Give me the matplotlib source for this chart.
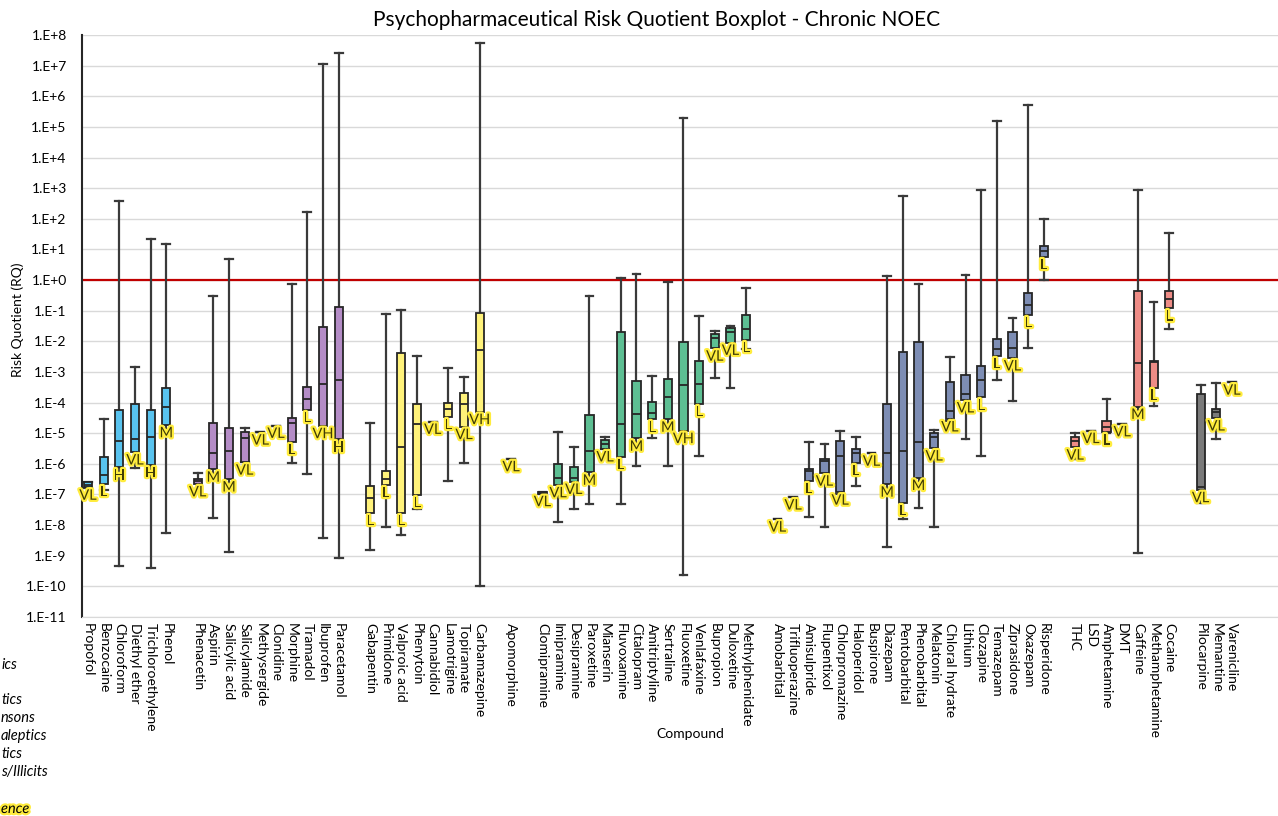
import numpy as np
import matplotlib.pyplot as plt
from matplotlib import patheffects
from matplotlib.ticker import FuncFormatter, NullLocator

plt.rcParams['font.family'] = ['Lato', 'DejaVu Sans']

# compounds per class (a blank slot is left between classes)
anaesthetics = ["Propofol", "Benzocaine", "Chloroform", "Diethyl ether",
                "Trichloroethylene", "Phenol"]
analgesics = ["Phenacetin", "Aspirin", "Salicylic acid", "Salicylamide",
              "Methysergide", "Clonidine", "Morphine", "Tramadol",
              "Ibuprofen", "Paracetamol"]
antiepileptics = ["Gabapentin", "Primidone", "Valproic acid", "Phenytoin",
                  "Cannabidiol", "Lamotrigine", "Topiramate", "Carbamazepine"]
antiparkinsons = ["Apomorphine"]
psychoanaleptics = ["Clomipramine", "Imipramine", "Desipramine", "Paroxetine",
                    "Mianserin", "Fluvoxamine", "Citalopram", "Amitriptyline",
                    "Sertraline", "Fluoxetine", "Venlafaxine", "Bupropion",
                    "Duloxetine", "Methylphenidate"]
psycholeptics = ["Amobarbital", "Trifluoperazine", "Amisulpride", "Flupentixol",
                 "Chlorpromazine", "Haloperidol", "Buspirone", "Diazepam",
                 "Pentobarbital", "Phenobarbital", "Melatonin",
                 "Chloral hydrate", "Lithium", "Clozapine", "Temazepam",
                 "Ziprasidone", "Oxazepam", "Risperidone"]
stimulants = ["THC", "LSD", "Amphetamine", "DMT", "Caffeine",
              "Methamphetamine", "Cocaine"]
other = ["Pilocarpine", "Memantine", "Varenicline"]

classes = [anaesthetics, analgesics, antiepileptics, antiparkinsons,
           psychoanaleptics, psycholeptics, stimulants, other]
class_colors = ["#58C3EF", "#B48CC6", "#FFF27A", "#9E9E9E",
                "#5DBF93", "#7D8DB4", "#EE8C86", "#7A7A7A"]
# what is left visible of the legend at the cropped left edge
legend_tails = ["ics", "", "tics", "nsons", "aleptics", "tics", "s/Illicits"]

# log10(RQ): lower whisker, Q1, median, Q3, upper whisker
lo = [-6.80, -6.85, -9.33, -6.15, -9.41, -8.25,
      -6.83, -7.78, -8.87, -5.95, -4.97, -4.75, -5.98, -6.33, -8.43, -9.08,
      -8.81, -8.07, -8.33, -7.49, -4.62, -6.55, -5.96, -9.99,
      -5.84,
      -6.98, -7.91, -7.47, -7.31, -5.52, -7.31, -6.07, -5.17, -6.07, -9.63,
      -5.74, -3.21, -3.53, -2.26,
      -7.81, -7.09, -7.75, -8.05, -6.98, -6.71, -5.66, -8.73, -7.81, -7.43,
      -8.07, -4.60, -5.19, -5.74, -3.26, -3.94, -2.22, 0.00,
      -5.85, -4.92, -5.00, -4.70, -8.91, -4.11, -1.60,
      -7.28, -5.19, -3.34]
q1 = [-6.77, -6.66, -6.11, -5.62, -6.04, -4.73,
      -6.66, -6.18, -6.50, -5.95, -4.97, -4.75, -5.29, -4.24, -4.76, -5.20,
      -7.60, -6.69, -7.60, -7.02, -4.62, -4.46, -4.79, -4.30,
      -5.84,
      -6.98, -6.69, -6.58, -6.28, -5.52, -5.77, -5.17, -4.55, -4.55, -4.92,
      -4.05, -2.23, -2.04, -1.96,
      -7.81, -7.09, -6.56, -6.31, -6.93, -5.96, -5.66, -6.67, -7.27, -6.45,
      -5.49, -4.54, -3.92, -3.83, -2.48, -2.55, -1.14, 0.76,
      -5.46, -4.92, -4.97, -4.70, -4.13, -3.51, -0.92,
      -6.85, -4.51, -3.34]
med = [-6.70, -6.37, -5.25, -5.20, -5.11, -4.15,
       -6.57, -5.64, -5.58, -5.17, -4.97, -4.75, -4.66, -3.89, -3.39, -3.26,
       -7.13, -6.50, -5.44, -4.69, -4.62, -4.22, -4.05, -2.28,
       -5.84,
       -6.96, -6.45, -6.45, -5.57, -5.35, -4.70, -4.38, -4.35, -3.83, -3.43,
       -3.40, -1.88, -1.69, -1.61,
       -7.81, -7.09, -6.22, -5.91, -5.74, -5.66, -5.66, -5.64, -5.58, -5.30,
       -5.11, -4.27, -3.72, -3.26, -2.25, -2.22, -0.81, 0.96,
       -5.25, -4.92, -4.79, -4.70, -2.70, -2.69, -0.63,
       -6.76, -4.31, -3.34]
q3 = [-6.58, -5.77, -4.24, -4.05, -4.24, -3.51,
      -6.50, -4.68, -4.84, -4.97, -4.97, -4.75, -4.51, -3.50, -1.53, -0.88,
      -6.72, -6.23, -2.38, -4.06, -4.62, -4.00, -3.70, -1.08,
      -5.84,
      -6.93, -6.02, -6.09, -4.41, -5.22, -1.69, -3.29, -3.97, -3.23, -2.03,
      -2.64, -1.77, -1.58, -1.14,
      -7.81, -7.09, -6.17, -5.83, -5.25, -5.53, -5.66, -4.05, -2.35, -2.02,
      -5.00, -3.32, -3.10, -2.81, -1.93, -1.70, -0.42, 1.12,
      -5.13, -4.92, -4.59, -4.70, -0.35, -2.64, -0.35,
      -3.73, -4.22, -3.34]
hi = [-6.58, -4.54, 2.58, -2.85, 1.33, 1.19,
      -6.31, -0.52, 0.69, -4.84, -4.97, -4.75, -0.13, 2.22, 7.05, 7.41,
      -4.67, -1.11, -0.98, -2.48, -4.62, -2.87, -3.17, 7.74,
      -5.84,
      -6.93, -4.97, -5.44, -0.52, -5.11, 0.07, 0.20, -3.13, -0.06, 5.29,
      -1.17, -1.66, -1.49, -0.26,
      -7.81, -7.09, -5.30, -5.35, -4.93, -5.11, -5.66, 0.13, 2.74, -0.13,
      -4.90, -2.51, 0.16, 2.94, 5.19, -1.24, 5.71, 1.99,
      -5.00, -4.92, -3.89, -4.70, 2.94, -0.73, 1.55,
      -3.43, -3.35, -3.34]
risk = ["VL", "L", "H", "VL", "H", "M",
        "VL", "M", "M", "VL", "VL", "VL", "L", "L", "VH", "H",
        "L", "L", "L", "L", "VL", "L", "VL", "VH",
        "VL",
        "VL", "VL", "VL", "M", "VL", "L", "M", "L", "M", "VH",
        "L", "VL", "VL", "L",
        "VL", "VL", "L", "VL", "VL", "L", "VL", "M", "L", "M",
        "VL", "VL", "VL", "L", "L", "VL", "L", "L",
        "VL", "VL", "L", "VL", "M", "L", "L",
        "VL", "VL", "VL"]

# slot positions and colours
compounds, positions, colors = [], [], []
slot = 1
for names, c in zip(classes, class_colors):
    for n in names:
        compounds.append(n)
        positions.append(slot)
        colors.append(c)
        slot += 1
    slot += 1

stats = []
for i in range(len(compounds)):
    stats.append(dict(whislo=10 ** lo[i], q1=10 ** q1[i], med=10 ** med[i],
                      q3=10 ** q3[i], whishi=10 ** hi[i], fliers=[]))

fig = plt.figure(figsize=(12.78, 8.16), dpi=100)
ax = fig.add_axes([82 / 1278, 1 - 617 / 816, 1 - 82 / 1278, 582 / 816])

ax.axhline(1, color='#C00000', lw=1.6, zorder=1.5)

bp = ax.bxp(stats, positions=positions, widths=0.52, capwidths=0.5,
            patch_artist=True, showfliers=False, manage_ticks=False,
            boxprops=dict(edgecolor='#262626', linewidth=1.3),
            medianprops=dict(color='#262626', linewidth=1.3),
            whiskerprops=dict(color='#3a3a3a', linewidth=1.6),
            capprops=dict(color='#3a3a3a', linewidth=1.6))
for patch, c in zip(bp['boxes'], colors):
    patch.set_facecolor(c)
    patch.set_zorder(3)
for m in bp['medians']:
    m.set_zorder(4)

# risk category labels under each box
glow = [patheffects.withStroke(linewidth=3.2, foreground='#FFEC3D')]
for x, q, r in zip(positions, q1, risk):
    ax.annotate(r, (x, 10 ** q), xytext=(0, -6), textcoords='offset points',
                ha='center', va='center', fontsize=10.5, color='#403c05',
                path_effects=glow, zorder=5)

ax.set_yscale('log')
ax.set_ylim(1e-11, 1e8)
ax.set_xlim(0.617, 76.94)
ax.set_yticks(10.0 ** np.arange(-11, 9))
ax.yaxis.set_minor_locator(NullLocator())
ax.yaxis.set_major_formatter(FuncFormatter(lambda v, p: "1.E%+d" % round(np.log10(v))))
ax.yaxis.grid(True, color='#D9D9D9', lw=1)
ax.set_axisbelow(True)

ax.set_xticks(positions)
ax.set_xticklabels(compounds, rotation=-90, va='top', ha='center', fontsize=10)
ax.tick_params(axis='x', length=0, pad=4)
ax.tick_params(axis='y', length=0, pad=11, labelsize=10)

for s in ['top', 'right']:
    ax.spines[s].set_visible(False)
ax.spines['bottom'].set_color('#D9D9D9')
ax.spines['left'].set_color('#262626')
ax.spines['left'].set_linewidth(1.5)

fig.text(657 / 1278, 1 - 20 / 816,
         "Psychopharmaceutical Risk Quotient Boxplot - Chronic NOEC",
         ha='center', va='center', fontsize=15)
fig.text(18 / 1278, 1 - 320 / 816, "Risk Quotient (RQ)", rotation=90,
         ha='center', va='center', fontsize=10)
fig.text(690 / 1278, 1 - 734 / 816, "Compound", ha='center', va='center',
         fontsize=10)

# legend: only the tails of the entries remain inside the picture
leg_y = [665, 682, 700, 718, 736, 754, 772]
for name, y in zip(legend_tails, leg_y):
    if name:
        fig.text(1 / 1278, 1 - y / 816, name, ha='left', va='center',
                 fontsize=10.5, style='italic')
fig.text(1 / 1278, 1 - 809 / 816, "ence", ha='left', va='center',
         fontsize=10.5, style='italic', path_effects=glow)

plt.savefig("out.png", dpi=100)
